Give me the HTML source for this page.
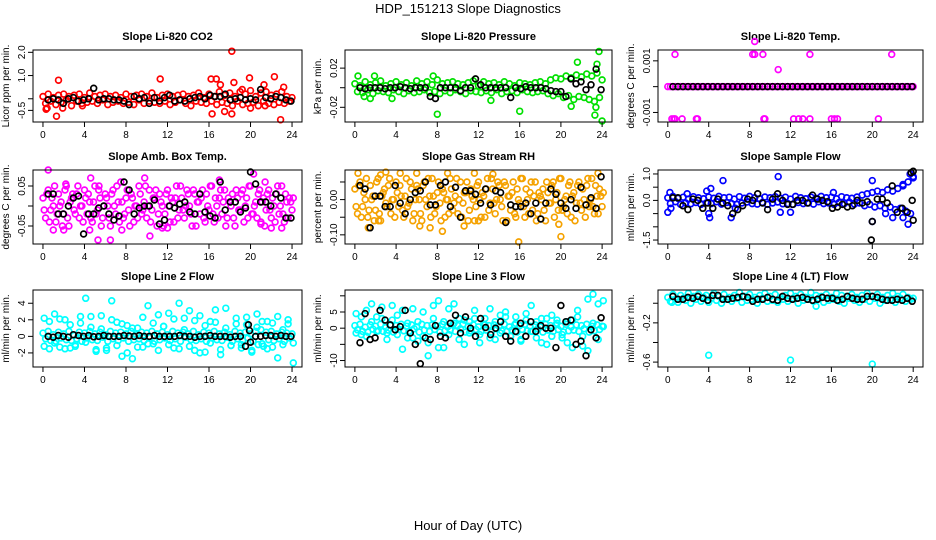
<!DOCTYPE html>
<html><head><meta charset="utf-8"><style>
body{margin:0;background:#fff}
svg{display:block;font-family:"Liberation Sans",Arial,sans-serif}
</style></head><body>
<svg id="chart" width="936" height="540" viewBox="0 0 936 540">
<text x="468" y="13" font-size="13" text-anchor="middle">HDP_151213  Slope Diagnostics</text>
<text x="468" y="530" font-size="13" text-anchor="middle">Hour of Day (UTC)</text>
</svg>
<script>
const xTicks=[0,4,8,12,16,20,24];
// Panel 1 CO2
const c1=[0.1,-0.2,0.2,-0.1,0.05,-0.25,0.15,-0.15,0.2,-0.05,0.1,-0.3,0.15,-0.1,0.2,-0.2,0.05,-0.15,0.25,-0.1,0.1,-0.2,0.15,-0.05,0.2,-0.25,0.1,-0.15,0.15,-0.1,0.05,-0.2,0.2,-0.15,0.1,-0.25,0.15,-0.05,0.2,-0.2,0.1,-0.1,0.25,-0.15,0.05,-0.2,0.15,-0.1,0.2,-0.25,0.1,-0.15,0.15,-0.05,0.2,-0.2,0.1,-0.3,0.15,-0.1,0.25,-0.15,0.05,-0.2,0.2,-0.1,0.1,-0.25,0.3,-0.15,0.15,-0.2,0.25,-0.3,0.1,-0.1,0.3,-0.25,0.2,-0.2,0.35,-0.15,0.1,-0.3,0.25,-0.1,0.3,-0.2,0.15,-0.25,0.2,-0.15,0.3,-0.2,0.1,-0.1,0.05];
const o1x=[0.3,0.4,1.3,1.5,1.9,3.8,11.3,16.2,16.7,16.3,17.1,17.5,18.2,18.4,18.2,19.9,20.0,21.3,22.3,22.9,23.2,21.4,19.2];
const o1y=[-0.45,-0.4,-0.75,0.8,-0.4,-0.3,0.85,0.85,0.85,-0.65,0.6,-0.55,2.05,0.7,-0.65,0.9,-0.4,0.6,0.95,-0.9,0.5,-0.3,0.4];
const b1=[-0.05,0.0,-0.05,-0.2,0.0,0.05,-0.1,-0.05,0.0,0.45,-0.05,0.0,0.0,-0.05,-0.05,-0.1,-0.25,0.1,0.0,0.05,-0.2,0.05,-0.1,0.05,0.15,-0.1,-0.05,-0.1,0.0,0.05,0.1,0.0,0.15,0.1,0.1,0.2,-0.05,0.0,0.05,-0.05,0.0,-0.05,0.4,0.05,0.0,0.1,0.05,-0.05,-0.1];
// Panel 2 Pressure
const c2=[0.004,-0.004,0.002,-0.005,0.006,-0.002,0.003,-0.006,0.005,-0.003,0.007,-0.004,0.002,-0.005,0.004,-0.002,0.006,-0.004,0.003,-0.006,0.005,-0.003,0.002,-0.005,0.007,-0.004,0.004,-0.002,0.006,-0.005,0.003,-0.004,0.008,-0.006,0.004,-0.003,0.005,-0.005,0.006,-0.002,0.004,-0.004,0.003,-0.006,0.005,-0.003,0.007,-0.004,0.002,-0.005,0.006,-0.003,0.004,-0.005,0.005,-0.002,0.003,-0.006,0.006,-0.004,0.004,-0.003,0.002,-0.005,0.005,-0.002,0.004,-0.004,0.003,-0.005,0.005,-0.004,0.006,-0.003,0.004,-0.006,0.008,-0.008,0.01,-0.006,0.009,-0.01,0.012,-0.008,0.01,-0.012,0.013,-0.009,0.011,-0.01,0.014,-0.012,0.012,-0.014,0.015,-0.01,0.008];
const o2x=[8,16,21.6,23.7,24,23.3,23.4,23.5,0.3,1.9,7.6,0.9,3.6,1.5,21,13.2];
const o2y=[-0.027,-0.024,0.026,0.037,-0.034,-0.028,-0.02,0.024,0.012,0.012,0.012,-0.009,-0.011,-0.011,-0.019,-0.013];
const b2=[0,-0.001,0,0,0,-0.001,0,0,0.001,0,-0.001,0,0,0,-0.009,-0.011,0,0,0,0,-0.003,0,0,0.009,0.003,0,0,0,0,0,-0.01,0,-0.001,0.001,0,0,0,-0.001,-0.003,-0.004,-0.004,-0.009,0.009,0.004,0.006,-0.002,0.003,0.019,-0.002];
// Panel 3 Temp
const c3=[0,0,0,0,0,0,0,0,0,0,0,0,0,0,0,0,0,0,0,0,0,0,0,0,0,0,0,0,0,0,0,0,0,0,0,0,0,0,0,0,0,0,0,0,0,0,0,0,0,0,0,0,0,0,0,0,0,0,0,0,0,0,0,0,0,0,0,0,0,0,0,0,0,0,0,0,0,0,0,0,0,0,0,0,0,0,0,0,0,0,0,0,0,0,0,0,0];
const o3x=[0.7,8.3,8.5,8.5,9.3,10.8,13.9,21.9,0.4,0.6,0.7,1.4,2.8,2.9,9.4,9.5,12.3,12.8,13.2,13.9,16.0,16.3,16.6,20.6];
const o3y=[0.00125,0.00125,0.00125,0.00175,0.00125,0.00066,0.00125,0.00125,-0.00125,-0.00125,-0.00125,-0.00125,-0.00125,-0.00125,-0.00125,-0.00125,-0.00125,-0.00125,-0.00125,-0.00125,-0.00125,-0.00125,-0.00125,-0.00125];
const b3=[0,0,0,0,0,0,0,0,0,0,0,0,0,0,0,0,0,0,0,0,0,0,0,0,0,0,0,0,0,0,0,0,0,0,0,0,0,0,0,0,0,0,0,0,0,0,0,0,0];
// Panel 4 Amb box
const c4a=[0.02,-0.03,0.04,-0.01,0.0,-0.04,0.03,0.01,-0.02,0.05,-0.05,0.02,-0.01,0.03,-0.03,0.0,0.04,-0.02,0.01,-0.04,0.05,-0.01,0.02,-0.03,0.03,0.0,-0.05,0.04,-0.02,0.01,0.06,-0.03,0.02,-0.01,0.03,-0.04,0.0,0.05,-0.02,0.01,-0.03,0.04,-0.01,0.02,-0.05,0.03,0.0,-0.02,0.04,-0.04,0.01,0.02,-0.03,0.05,-0.01,0.0,0.03,-0.02,0.04,-0.05,0.01,0.02,-0.03,0.03,-0.01,0.05,-0.04,0.0,0.02,-0.02,0.04,-0.03,0.01,0.03,-0.05,0.02,-0.01,0.04,0.0,-0.03,0.05,-0.02,0.01,0.03,-0.04,0.02,-0.01,0.04,-0.03,0.0,0.03,-0.02,0.05,-0.04,0.01,0.02,-0.01];
const c4b=[-0.01,0.03,-0.04,0.02,0.05,-0.02,0.0,-0.05,0.04,-0.03,0.01,0.03,-0.02,0.05,0.0,-0.04,0.02,0.03,-0.03,0.01,-0.02,0.04,-0.05,0.0,0.02,-0.03,0.03,0.0,0.05,-0.04,0.01,-0.02,0.04,-0.05,0.02,0.0,-0.03,0.03,-0.01,0.05,0.0,-0.04,0.02,0.04,-0.02,0.01,-0.05,0.03,0.0,0.02,-0.04,0.05,-0.01,0.02,-0.03,0.04,0.0,-0.05,0.03,0.01,-0.02,0.04,-0.04,0.0,0.05,-0.02,0.02,-0.03,0.04,0.01,-0.05,0.02,0.0,-0.03,0.04,-0.01,0.03,-0.04,0.02,0.05,-0.02,0.0,-0.03,0.04,0.01,-0.05,0.03,-0.01,0.02,-0.04,0.05,0.0,-0.02,0.03,-0.03,0.01,0.02];
const o4x=[0.5,1.0,2.0,4.5,5.3,6.5,7.6,10.3,9.8,11.5,12.0,17.0,20.3,21.0,21.4,22.0,23.0,2.2,4.6,5.4];
const o4y=[0.09,-0.06,-0.06,-0.06,-0.085,-0.085,-0.06,-0.075,0.07,-0.055,-0.055,0.065,0.08,-0.045,0.06,-0.055,-0.055,0.055,0.07,0.05];
const b4=[0.03,0.03,-0.02,-0.02,0.0,0.02,0.025,-0.07,-0.02,-0.02,-0.005,0.0,-0.02,-0.035,-0.025,0.06,0.04,-0.02,-0.005,0.0,0.0,0.015,-0.045,-0.035,0.0,-0.005,0.005,0.01,-0.015,-0.02,0.03,-0.015,-0.025,-0.03,0.06,-0.01,0.01,0.01,-0.015,-0.005,0.085,0.055,0.01,0.01,0.0,0.03,0.02,-0.03,-0.03];
// Panel 5 RH
const c5a=[0.03,-0.04,0.05,-0.02,0.0,-0.05,0.04,0.01,-0.03,0.06,-0.06,0.02,-0.01,0.04,-0.04,0.0,0.05,-0.02,0.01,-0.05,0.06,-0.01,0.03,-0.04,0.04,0.0,-0.06,0.05,-0.02,0.01,0.06,-0.04,0.02,-0.01,0.03,-0.05,0.0,0.06,-0.03,0.01,-0.04,0.05,-0.01,0.02,-0.06,0.03,0.0,-0.02,0.05,-0.05,0.01,0.03,-0.03,0.06,-0.01,0.0,0.04,-0.02,0.05,-0.06,0.01,0.02,-0.04,0.03,-0.01,0.06,-0.05,0.0,0.02,-0.03,0.05,-0.04,0.01,0.03,-0.06,0.02,-0.01,0.05,0.0,-0.03,0.06,-0.02,0.01,0.04,-0.05,0.02,-0.01,0.05,-0.03,0.0,0.04,-0.02,0.06,-0.04,0.01,0.03,-0.02];
const c5b=[-0.02,0.04,-0.05,0.02,0.06,-0.03,0.0,-0.06,0.05,-0.04,0.01,0.03,-0.02,0.06,0.0,-0.05,0.02,0.04,-0.03,0.01,-0.02,0.05,-0.06,0.0,0.03,-0.04,0.04,0.0,0.06,-0.05,0.01,-0.02,0.05,-0.06,0.02,0.0,-0.04,0.03,-0.01,0.06,0.0,-0.05,0.02,0.05,-0.03,0.01,-0.06,0.04,0.0,0.02,-0.05,0.06,-0.01,0.03,-0.04,0.05,0.0,-0.06,0.04,0.01,-0.03,0.05,-0.05,0.0,0.06,-0.02,0.03,-0.04,0.05,0.01,-0.06,0.02,0.0,-0.03,0.05,-0.01,0.04,-0.05,0.02,0.06,-0.03,0.0,-0.04,0.05,0.01,-0.06,0.04,-0.01,0.03,-0.05,0.06,0.0,-0.02,0.04,-0.04,0.01,0.02];
const o5x=[0.3,2.5,3.0,4.4,6.0,6.3,7.3,8.5,9.0,10.6,11.6,13.4,15.9,20.0,19.8,23.6,1.3,2.3,12.0];
const o5y=[0.075,0.07,0.078,0.075,0.075,-0.075,-0.08,-0.09,0.075,-0.075,0.075,0.072,-0.12,-0.105,-0.07,0.075,-0.08,-0.06,-0.06];
const b5=[0.04,0.03,-0.08,0.01,0.01,-0.02,-0.02,0.04,-0.01,-0.04,0.0,0.02,0.025,0.05,-0.015,-0.015,0.04,0.05,-0.02,0.035,-0.05,0.025,0.025,0.015,-0.01,0.03,-0.015,0.025,0.02,-0.065,-0.015,-0.02,-0.02,-0.01,-0.04,-0.01,-0.055,-0.01,0.03,0.015,-0.01,-0.025,0.0,-0.025,0.035,-0.015,0.005,-0.025,0.065];
// Panel 6 Sample flow
const c6=[0.1,-0.12,0.15,-0.05,0.08,-0.15,0.12,-0.1,0.05,-0.13,0.14,-0.08,0.1,-0.15,0.06,-0.1,0.13,-0.12,0.08,-0.05,0.15,-0.14,0.1,-0.08,0.12,-0.12,0.05,-0.15,0.14,-0.1,0.08,-0.06,0.15,-0.12,0.1,-0.14,0.06,-0.08,0.13,-0.15,0.1,-0.1,0.14,-0.06,0.08,-0.13,0.12,-0.12,0.05,-0.15,0.15,-0.08,0.1,-0.12,0.06,-0.1,0.13,-0.14,0.08,-0.05,0.15,-0.12,0.1,-0.1,0.12,-0.15,0.06,-0.08,0.14,-0.12,0.1,-0.06,0.08,-0.14,0.13,-0.1,0.2,-0.2,0.25,-0.15,0.3,-0.25,0.35,-0.2,0.3,-0.3,0.4,-0.25,0.35,-0.35,0.45,-0.3,0.55,-0.4,0.7,-0.5,0.9];
const o6x=[0.0,0.2,0.3,3.8,4.0,4.1,4.2,5.4,6.2,6.6,10.8,11.0,12.0,20.0,20.0,21.3,22.0,23.0,23.5,23.7,24.0,23.0,1.9,16.2];
const o6y=[-0.45,0.3,-0.3,0.35,-0.5,-0.65,0.45,0.75,-0.65,-0.3,0.9,-0.45,-0.45,0.75,-0.8,-0.5,-0.65,-0.65,-0.9,1.0,0.85,0.6,0.25,0.3];
const b6=[0.1,0.1,-0.2,-0.35,0.05,0.0,-0.3,-0.1,-0.3,0.05,-0.1,-0.2,-0.5,-0.35,-0.2,0.05,0.0,0.25,-0.1,-0.35,0.05,0.25,0.0,-0.15,-0.15,0.0,0.0,-0.1,0.2,0.05,0.0,-0.05,-0.3,-0.25,-0.15,-0.25,-0.2,0.0,-0.1,-0.05,-0.8,0.05,0.05,-0.1,0.55,-0.45,-0.3,-0.45,0.0];
const ob6x=[19.9,24.0,23.8,24.0];
const ob6y=[-1.5,1.1,1.05,-0.75];
// Panel 7 Line 2 flow
const c7=[0.4,-0.3,0.6,-0.5,0.2,-0.6,0.5,-0.2,0.3,-0.4,0.6,-0.5,0.1,-0.3,0.5,-0.6,0.4,-0.2,0.6,-0.4,0.3,-0.5,0.5,-0.1,0.2,-0.6,0.6,-0.3,0.4,-0.5,0.5,-0.2,0.3,-0.6,0.6,-0.4,0.2,-0.3,0.5,-0.5,0.4,-0.1,0.6,-0.6,0.3,-0.4,0.5,-0.2,0.2,-0.5,0.6,-0.3,0.4,-0.6,0.5,-0.1,0.3,-0.4,0.6,-0.5,0.2,-0.3,0.5,-0.6,0.4,-0.2,0.6,-0.4,0.3,-0.5,0.5,-0.1,0.2,-0.6,0.6,-0.3,0.4,-0.5,0.5,-0.2,0.3,-0.6,0.6,-1.0,0.8,-1.2,0.5,-0.4,0.6,-0.5,0.3,-0.3,0.5,-0.6,0.4,-0.2,0.3];
const c7b=[2.2,-1.5,2.7,-1.3,2.0,-1.4,-1.2,1.6,4.6,2.4,-1.6,2.5,-1.7,4.3,1.7,-2.4,1.3,-2.7,1.0,-1.3,3.7,-0.9,2.6,1.2,2.8,-1.4,4.0,2.2,3.1,-1.7,2.5,-1.9,1.8,3.2,-2.2,3.4,-1.1,1.5,-1.0,2.3,-1.7,2.7,1.8,-1.5,1.6,-2.6,0.8,2.0,-3.2];
const c7c=[-1.2,1.8,-0.8,2.1,-1.5,1.4,-1.0,2.4,-0.7,1.1,-1.8,0.9,-1.4,2.0,-1.1,1.5,-2.0,1.0,-1.3,2.3,-0.9,1.6,-1.7,1.2,-1.0,2.1,-1.5,0.8,-1.2,1.9,-2.0,1.3,-0.8,1.7,-1.6,1.0,-1.1,2.2,-1.4,1.4,-1.9,1.1,-0.9,1.8,-1.3,2.4,-1.0,1.5,-0.8];
const b7=[0.0,-0.1,0.1,0.0,-0.1,0.2,0.1,0.0,0.1,-0.05,0.0,0.1,0.0,0.0,0.0,0.1,0.05,0.0,0.1,0.0,0.0,0.1,0.0,0.0,0.0,0.0,0.1,0.0,0.0,-0.1,0.0,0.0,0.1,0.0,0.0,0.0,-0.1,0.0,0.0,-1.2,-0.7,0.0,0.0,0.1,0.1,0.0,0.1,0.0,0.0];
const ob7x=[19.8,19.9];
const ob7y=[1.4,0.7];
// Panel 8 Line 3 flow
const c8=[0.8,-0.5,1.2,-1.0,0.3,-1.2,1.0,-0.3,0.6,-0.8,1.2,-1.0,0.2,-0.6,1.0,-1.2,0.8,-0.4,1.2,-0.8,0.6,-1.0,1.0,-0.2,0.4,-1.2,1.2,-0.6,0.8,-1.0,1.0,-0.4,0.6,-1.2,1.2,-0.8,0.4,-0.6,1.0,-1.0,0.8,-0.2,1.2,-1.2,0.6,-0.8,1.0,-0.4,0.4,-1.0,1.2,-0.6,0.8,-1.2,1.0,-0.2,0.6,-0.8,1.2,-1.0,0.4,-0.6,1.0,-1.2,0.8,-0.4,1.2,-0.8,0.6,-1.0,1.0,-0.2,0.4,-1.2,1.2,-0.6,0.8,-1.0,1.0,-0.4,0.6,-1.2,1.2,-0.8,0.4,-0.6,1.0,-1.0,0.8,-0.2,1.2,-1.2,0.6,-0.8,1.0,-0.4,0.6];
const c8b=[4.5,-2.0,5.5,7.5,3.5,6.5,-1.5,7.0,4.0,5.5,-3.0,6.0,-4.0,5.0,-8.5,7.0,8.5,-6.0,6.0,7.5,3.0,-5.0,2.0,5.5,-4.5,3.0,6.0,-3.5,4.0,5.0,-2.5,3.5,-4.0,4.5,7.0,-3.0,3.0,-5.0,4.0,2.5,-2.0,-4.5,2.5,5.5,-5.5,9.0,10.5,7.5,8.5];
const c8c=[-1.5,3.5,-2.5,2.0,-1.0,3.0,-3.5,2.5,-2.0,-6.5,1.5,-3.0,2.0,-2.5,-4.5,3.0,-6.0,2.0,-2.0,1.5,-3.5,2.5,-1.5,3.0,-2.0,1.0,-3.0,2.0,-1.5,3.5,-2.5,1.5,-3.5,2.5,-1.0,2.0,-4.5,3.0,-2.5,1.5,-3.0,2.0,-6.0,3.5,-2.5,-7.0,1.5,-3.5,0.5];
const b8=[-4.5,4.5,-3.5,-3.0,5.5,2.5,1.0,-0.5,0.5,5.5,-1.5,-5.0,-11,-3.0,-3.5,0.8,-2.5,-3.0,1.5,4.0,-1.5,3.5,0.0,-2.5,3.0,0.2,-2.0,0.0,2.0,-2.5,-4.0,-1.0,1.5,-2.5,2.0,-1.0,0.8,0.0,0.0,-6.0,7.0,2.0,2.5,-5.0,-4.0,-8.5,-0.5,-3.0,3.2];
// Panel 9 Line 4 flow
const c9=[0.06,0.02,0.09,0.04,0.01,0.08,0.05,0.03,0.1,0.0,0.07,0.04,0.09,0.02,0.06,0.08,0.01,0.05,0.1,0.03,0.07,0.0,0.09,0.04,0.06,0.02,0.08,0.05,0.11,0.01,0.07,0.03,0.09,0.04,0.06,0.0,0.08,0.05,0.1,0.02,0.07,0.03,0.09,0.01,0.06,0.04,0.08,0.02,0.1,0.05,0.07,0.0,0.09,0.03,0.06,0.04,0.11,0.02,0.08,0.05,0.07,0.01,0.09,0.03,0.06,0.04,0.1,0.02,0.08,0.0,0.07,0.05,0.09,0.03,0.06,0.01,0.08,0.04,0.1,0.02,0.07,0.05,0.09,0.0,0.06,0.03,0.08,0.04,0.1,0.01,0.07,0.05,0.09,0.02,0.06,0.04,0.05];
const o9x=[4.0,12.0,20.0,14.5,0.4];
const o9y=[-0.53,-0.58,-0.62,-0.03,0.01];
const b9=[0.07,0.04,0.04,0.06,0.05,0.07,0.05,0.03,0.08,0.08,0.04,0.04,0.05,0.06,0.07,0.06,0.02,0.04,0.04,0.06,0.04,0.03,0.07,0.05,0.04,0.05,0.06,0.04,0.03,0.04,0.06,0.05,0.05,0.03,0.04,0.07,0.05,0.04,0.04,0.07,0.07,0.06,0.04,0.03,0.03,0.04,0.03,0.05,0.02];

const NS='http://www.w3.org/2000/svg';
const svg=document.getElementById('chart');
function mk(tag,attrs,parent){const e=document.createElementNS(NS,tag);for(const k in attrs)e.setAttribute(k,attrs[k]);(parent||svg).appendChild(e);return e;}
const cols=[[33,302],[345,612],[658,923]];
const rows=[[50,122],[170,244],[290,367]];
const panels=[
 {t:'Slope Li-820 CO2',yl:'Licor ppm per min.',d:[-1.0,2.1],tk:[-0.5,0,1,2],tl:['-0.5','','1.0','2.0'],col:'#ff0000',dense:[c1],ox:o1x,oy:o1y,b:b1},
 {t:'Slope Li-820 Pressure',yl:'kPa per min.',d:[-0.035,0.0385],tk:[-0.02,0,0.02,0.04],tl:['-0.02','','0.02',''],col:'#00e000',dense:[c2],ox:o2x,oy:o2y,b:b2},
 {t:'Slope Li-820 Temp.',yl:'degrees C per min.',d:[-0.00137,0.00142],tk:[-0.001,0,0.001,0.002],tl:['-0.001','','0.001',''],col:'#ff00ff',dense:[c3],ox:o3x,oy:o3y,b:b3},
 {t:'Slope Amb. Box Temp.',yl:'degrees C per min.',d:[-0.095,0.09],tk:[-0.05,0,0.05],tl:['-0.05','','0.05'],col:'#ff00ff',dense:[c4a,c4b],ox:o4x,oy:o4y,b:b4},
 {t:'Slope Gas Stream RH',yl:'percent per min.',d:[-0.126,0.084],tk:[-0.1,-0.05,0,0.05],tl:['-0.10','','0.00',''],col:'#f5a200',dense:[c5a,c5b],ox:o5x,oy:o5y,b:b5},
 {t:'Slope Sample Flow',yl:'ml/min per min.',d:[-1.65,1.15],tk:[-1.5,-1,-0.5,0,0.5,1],tl:['-1.5','','','0.0','','1.0'],col:'#0000ff',dense:[c6],ox:o6x,oy:o6y,b:b6,bx:ob6x,by:ob6y},
 {t:'Slope Line 2 Flow',yl:'ml/min per min.',d:[-3.7,5.6],tk:[-2,0,2,4],tl:['-2','0','2','4'],col:'#00ffff',dense:[c7,c7b,c7c],ox:[],oy:[],b:b7,bx:ob7x,by:ob7y},
 {t:'Slope Line 3 Flow',yl:'ml/min per min.',d:[-12,11.8],tk:[-10,-5,0,5,10],tl:['-10','','0','5',''],col:'#00ffff',dense:[c8,c8b,c8c],ox:[],oy:[],b:b8},
 {t:'Slope Line 4 (LT) Flow',yl:'ml/min per min.',d:[-0.65,0.135],tk:[-0.6,-0.4,-0.2,0],tl:['-0.6','','-0.2',''],col:'#00ffff',dense:[c9],ox:o9x,oy:o9y,b:b9}
];
function slug(s){return s.toLowerCase().replace(/[^a-z0-9]+/g,'-').replace(/^-|-$/g,'');}
panels.forEach((p,i)=>{
 const [x0,x1]=cols[i%3],[y0,y1]=rows[Math.floor(i/3)];
 const sx=v=>x0+(v+0.96)/(25.92)*(x1-x0);
 const sy=v=>y1-(v-p.d[0])/(p.d[1]-p.d[0])*(y1-y0);
 const g=mk('g',{});
 
 
 const title=mk('text',{x:(x0+x1)/2,y:y0-10,'font-size':11,'font-weight':'bold','text-anchor':'middle'},g);
 title.textContent=p.t;
 
 
 const pts=mk('g',{fill:'none','stroke-width':1.7},g);
 
 
 const dot=(x,y,c)=>{const e=mk('circle',{cx:sx(x).toFixed(1),cy:sy(y).toFixed(1),r:2.9,stroke:c},pts);
  
  };
 p.dense.forEach((arr,ai)=>{const n=arr.length;arr.forEach((v,k)=>dot(k*24/(n-1)+(ai===0?0:0.12),v,p.col));});
 p.ox.forEach((x,k)=>dot(x,p.oy[k],p.col));
 const nb=p.b.length;p.b.forEach((v,k)=>dot(0.5+k*23.4/(nb-1),v,'#000'));
 if(p.bx)p.bx.forEach((x,k)=>dot(x,p.by[k],'#000'));
 const box=mk('rect',{x:x0,y:y0,width:x1-x0,height:y1-y0,fill:'none',stroke:'#000','stroke-width':1},g);
 
 
 xTicks.forEach(t=>{mk('line',{x1:sx(t),x2:sx(t),y1:y1,y2:y1+5,stroke:'#000'},g);
  const tx=mk('text',{x:sx(t),y:y1+16,'font-size':10,'text-anchor':'middle'},g);tx.textContent=t;
  
  });
 p.tk.forEach((t,k)=>{const yy=sy(t);if(yy<y0-1||yy>y1+1)return;
  mk('line',{x1:x0-5,x2:x0,y1:yy,y2:yy,stroke:'#000'},g);
  if(p.tl[k]){const tx=mk('text',{x:x0-8,y:yy,'font-size':10,'text-anchor':'middle',transform:`rotate(-90 ${x0-8} ${yy})`},g);tx.textContent=p.tl[k];
  
  }});
 const yt=mk('text',{x:x0-24,y:(y0+y1)/2,'font-size':10,'text-anchor':'middle',transform:`rotate(-90 ${x0-24} ${(y0+y1)/2})`},g);
 yt.textContent=p.yl;
 
 
});
</script>
</body></html>
